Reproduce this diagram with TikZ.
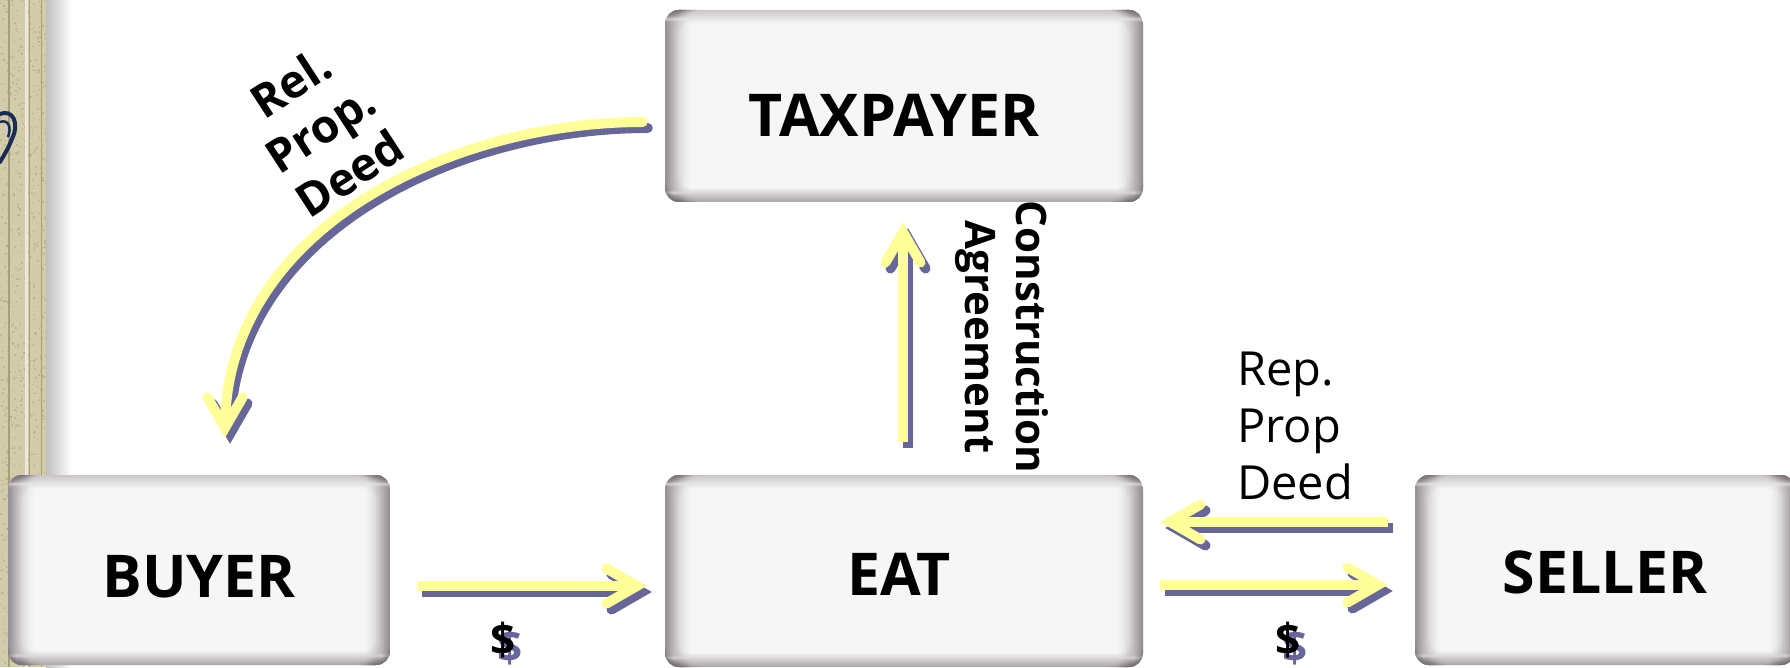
\documentclass[tikz,border=0pt]{standalone}
\usepackage{fontspec}
\setmainfont{Open Sans}
\usetikzlibrary{calc}
\definecolor{arrowyellow}{HTML}{FFFF99}
\definecolor{arrowshadow}{HTML}{666699}
\definecolor{boxedge}{HTML}{7A7278}
\definecolor{boxring}{HTML}{CCC8CA}
\definecolor{boxin}{HTML}{F6F6F6}
\definecolor{beige}{HTML}{D3CCAA}
\definecolor{beigedark}{HTML}{A89F78}
\definecolor{swirl}{HTML}{1C2B55}
\tikzset{
  softbox/.style={rounded corners=14pt, inner sep=0pt, text depth=0pt,
    font=\fontsize{59}{64}\selectfont\bfseries,
    path picture={
      \coordinate (pSW) at (path picture bounding box.south west);
      \coordinate (pNE) at (path picture bounding box.north east);
      \foreach \i in {0,...,9}{\pgfmathsetmacro\m{\i*100/9}
        \fill[boxin!\m!boxring, rounded corners=14pt]
          ([shift={(\i*1.5pt,\i*1.5pt)}]pSW) rectangle ([shift={(-\i*1.5pt,-\i*1.5pt)}]pNE);}
      \foreach \j in {0,...,12}{\pgfmathsetmacro\op{0.62*(1-\j/13)^1.6}
        \fill[boxedge, opacity=\op] ($(pSW)+(\j*2,0)$) rectangle ($(pSW |- pNE)+(\j*2+2,0)$);
        \fill[boxedge, opacity=\op] ($(pNE)+(-\j*2,0)$) rectangle ($(pNE |- pSW)+(-\j*2-2,0)$);}
      \foreach \j in {0,...,6}{\pgfmathsetmacro\op{0.32*(1-\j/7)^1.4}
        \fill[boxedge, opacity=\op] ($(pSW)+(0,\j*2)$) rectangle ($(pNE |- pSW)+(0,\j*2+2)$);}
    }},
  shaft/.style={line width=10pt, line cap=butt},
  chevron/.style={line width=10pt, line cap=round, line join=miter},
  dollar/.style={font=\fontsize{44}{50}\selectfont\bfseries, inner sep=0pt},
}
\newcommand\flowarrow[4]{%
  \draw[#1, arrowshadow, transform canvas={shift={(5pt,-6pt)}}] #2;
  \draw[chevron, arrowshadow, transform canvas={shift={(5pt,-6pt)}}]
    ($(#3)!35pt!30:(#4)$) -- (#3) -- ($(#3)!35pt!-30:(#4)$);
  \draw[#1, arrowyellow] #2;
  \draw[chevron, arrowyellow]
    ($(#3)!35pt!30:(#4)$) -- (#3) -- ($(#3)!35pt!-30:(#4)$);
}
\begin{document}
\begin{tikzpicture}[x=1pt, y=1pt]
\useasboundingbox (0,0) rectangle (1790,667);
\fill[white] (0,0) rectangle (1790,667);
% left decorative border
\fill[beige] (0,0) rectangle (46,667);
\pgfmathsetseed{7}
\foreach \i in {1,...,900}{\fill[beigedark, opacity=0.45] ({rnd*46},{rnd*667}) rectangle ++(1.6,1.6);}
\draw[beigedark, line width=1.5pt] (9,0) -- (9,667);
\draw[white!55!beige, line width=3pt] (26,0) -- (26,667);
\draw[beigedark, line width=1pt] (29,0) -- (29,667);
\draw[beigedark, line width=1pt] (41,0) -- (41,667);
\shade[left color=black!25, right color=white] (46,0) rectangle (72,667);
\draw[swirl, line width=4pt, line cap=round] (0,553) .. controls (12,558) and (20,545) .. (12,528) .. controls (8,518) and (3,510) .. (0,505);
\draw[swirl, line width=2.5pt] (0,545) .. controls (8,548) and (12,540) .. (8,530);
% boxes
\node[softbox, minimum width=478pt, minimum height=192pt, text height=62pt] (tax) at (904,561) {\hspace*{-20pt}TAXPAYER};
\node[softbox, minimum width=382pt, minimum height=190pt, text height=54pt] (buyer) at (199,97) {BUYER};
\node[softbox, minimum width=478pt, minimum height=192pt, text height=48pt] (eat) at (904,96) {\hspace*{-10pt}EAT};
\node[softbox, minimum width=380pt, minimum height=190pt, text height=47pt] (seller) at (1605,97) {SELLER};
% arrow coordinates
\coordinate (a1s) at ($(buyer.east)+(27,-16)$);
\coordinate (a1e) at ($(eat.west)+(-28,-15)$);
\coordinate (a2s) at ($(eat.north)+(-1,33)$);
\coordinate (a2e) at ($(tax.south)+(-1,-30)$);
\coordinate (a3s) at ($(seller.west)+(-27,48)$);
\coordinate (a3e) at ($(eat.east)+(27,49)$);
\coordinate (a4s) at ($(eat.east)+(17,-14)$);
\coordinate (a4e) at ($(seller.west)+(-37,-15)$);
\coordinate (a5s) at ($(tax.west)+(-22,-16)$);
\coordinate (a5e) at ($(buyer.north)+(26,47)$);
\coordinate (a5c1) at ($(a5s)+(-193,0)$);
\coordinate (a5c2) at ($(a5e)+(0,198)$);
\flowarrow{shaft}{(a1s) -- (a1e)}{a1e}{a1s}
\flowarrow{shaft}{(a2s) -- (a2e)}{a2e}{a2s}
\flowarrow{shaft}{(a3s) -- (a3e)}{a3e}{a3s}
\flowarrow{shaft}{(a4s) -- (a4e)}{a4e}{a4s}
\flowarrow{shaft, line cap=round}{(a5s) .. controls (a5c1) and (a5c2) .. (a5e)}{a5e}{a5c2}
% labels
\node[font=\fontsize{46}{54}\selectfont\bfseries, align=center, rotate=33] (rel) at (320,539) {Rel.\\Prop.\\Deed};
\node[font=\fontsize{42}{51}\selectfont\bfseries, align=center, rotate=-90] (cons) at (1002,330) {Construction\\Agreement};
\node[font=\fontsize{47}{57}\selectfont, align=left, anchor=north west, inner sep=0pt] (rep) at (1237,315) {Rep.\\Prop\\Deed};
\node[dollar, arrowshadow] (d1s) at (510,20) {\$};
\node[dollar] (d1) at (503,27) {\$};
\node[dollar, arrowshadow] (d2s) at (1295,20) {\$};
\node[dollar] (d2) at (1288,27) {\$};
\end{tikzpicture}
\end{document}
